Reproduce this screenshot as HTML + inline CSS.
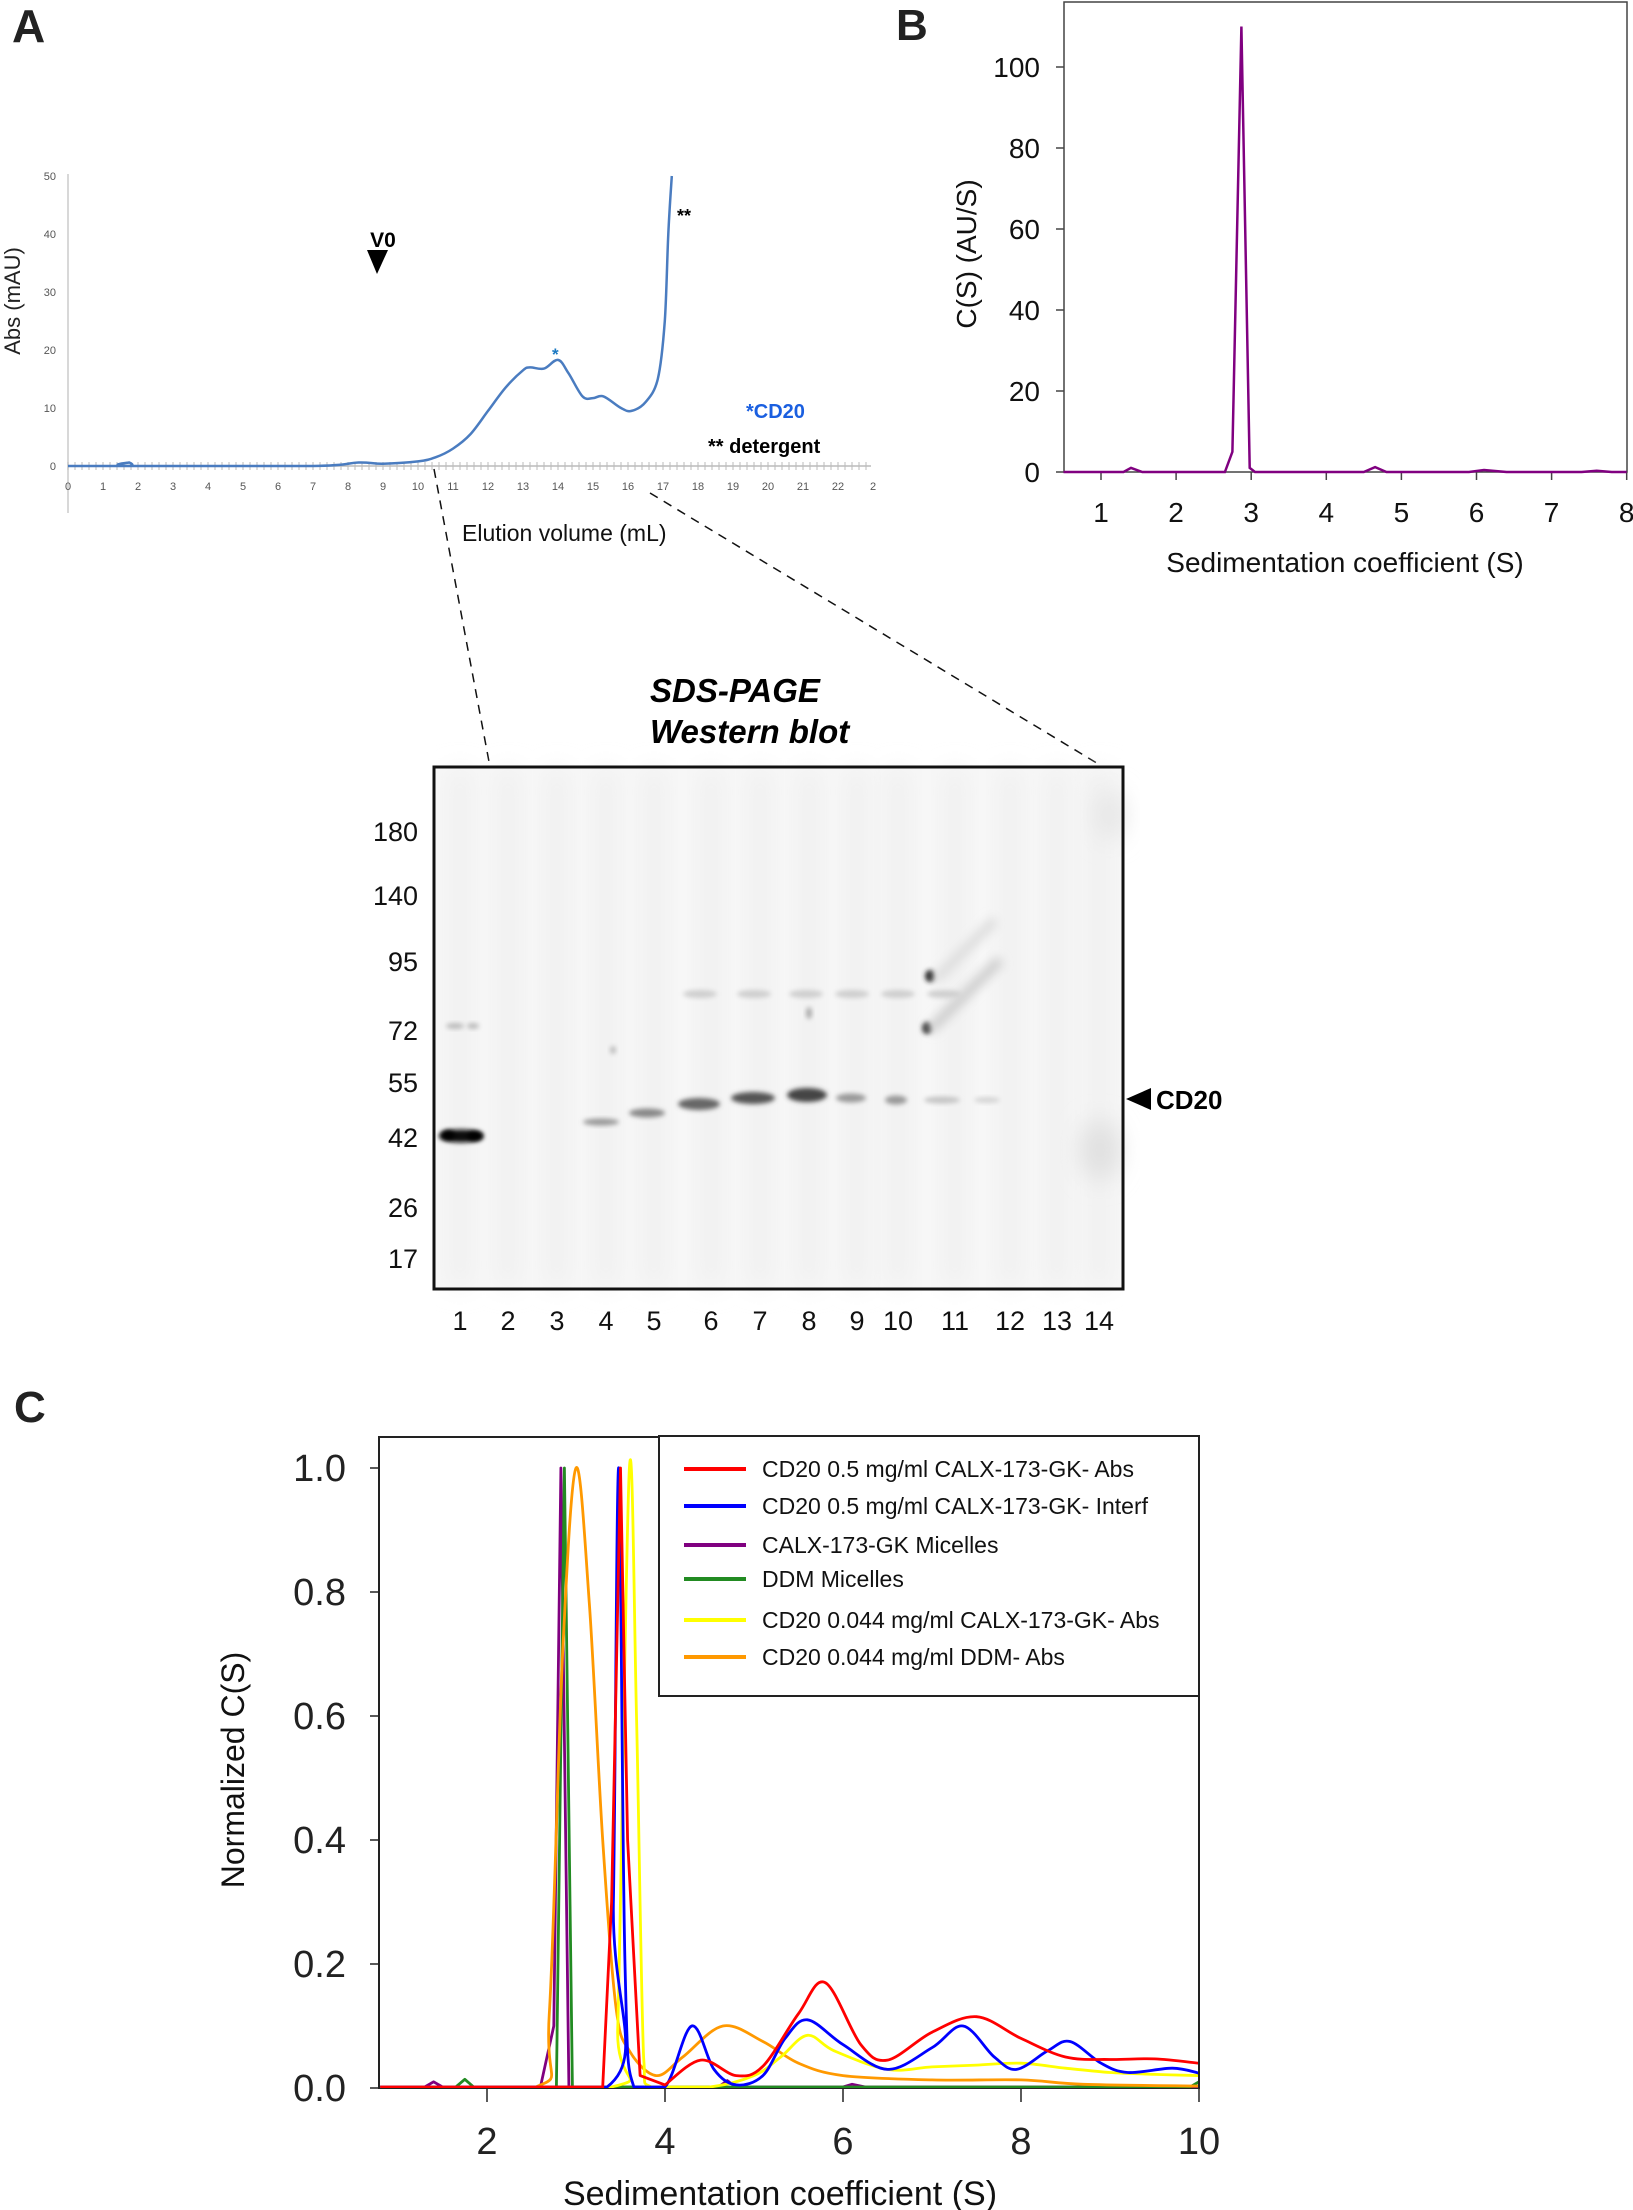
<!DOCTYPE html>
<html><head><meta charset="utf-8"><style>
html,body{margin:0;padding:0;background:#fff}
svg{display:block}
text{font-family:"Liberation Sans",sans-serif}
</style></head><body>
<svg id="s" width="1633" height="2210" viewBox="0 0 1633 2210" xmlns="http://www.w3.org/2000/svg">
<defs>
<filter id="b2" x="-50%" y="-50%" width="200%" height="200%"><feGaussianBlur stdDeviation="2.5"/></filter>
<filter id="b4" x="-50%" y="-50%" width="200%" height="200%"><feGaussianBlur stdDeviation="5"/></filter>
<filter id="b10" x="-50%" y="-50%" width="200%" height="200%"><feGaussianBlur stdDeviation="12"/></filter>
<clipPath id="cc"><rect x="380" y="1438" width="818" height="650"/></clipPath>
</defs>
<!-- Panel A -->
<text x="12" y="42" font-size="46" font-weight="bold" fill="#222">A</text>
<line x1="68" y1="174" x2="68" y2="513" stroke="#ccc" stroke-width="1.5"/>
<g id="aTicks" font-size="11" fill="#555"></g>
<text transform="translate(20,301) rotate(-90)" text-anchor="middle" font-size="22" fill="#222">Abs (mAU)</text>
<path id="aCurve" fill="none" stroke="#4a7cc0" stroke-width="2.5"/>
<text x="383" y="247" text-anchor="middle" font-size="21" font-weight="bold">V0</text>
<polygon points="367,250 388,250 377,274" fill="#000"/>
<text x="677" y="222" font-size="18" font-weight="bold">**</text>
<text x="552" y="360" font-size="17" fill="#1a78c2" font-weight="bold">*</text>
<text x="746" y="418" font-size="20" font-weight="bold" fill="#1a5fe0">*CD20</text>
<text x="708" y="453" font-size="20" font-weight="bold">** detergent</text>
<text x="462" y="541" font-size="23" fill="#111">Elution volume (mL)</text>
<line x1="434" y1="469" x2="490" y2="767" stroke="#111" stroke-width="1.5" stroke-dasharray="9,7"/>
<line x1="650" y1="493" x2="1100" y2="765" stroke="#111" stroke-width="1.5" stroke-dasharray="9,7"/>
<!-- Blot -->
<text x="650" y="702" font-size="33" font-weight="bold" font-style="italic">SDS-PAGE</text>
<text x="650" y="743" font-size="33" font-weight="bold" font-style="italic">Western blot</text>
<rect x="434" y="767" width="689" height="522" fill="#f7f7f7"/>
<g id="blot"></g>
<rect x="434" y="767" width="689" height="522" fill="none" stroke="#111" stroke-width="3"/>
<g font-size="27" text-anchor="end" fill="#111">
<text x="418" y="841">180</text><text x="418" y="905">140</text><text x="418" y="971">95</text><text x="418" y="1040">72</text><text x="418" y="1092">55</text><text x="418" y="1147">42</text><text x="418" y="1217">26</text><text x="418" y="1268">17</text>
</g>
<g font-size="27" text-anchor="middle" fill="#111">
<text x="460" y="1330">1</text><text x="508" y="1330">2</text><text x="557" y="1330">3</text><text x="606" y="1330">4</text><text x="654" y="1330">5</text><text x="711" y="1330">6</text><text x="760" y="1330">7</text><text x="809" y="1330">8</text><text x="857" y="1330">9</text><text x="898" y="1330">10</text><text x="955" y="1330">11</text><text x="1010" y="1330">12</text><text x="1057" y="1330">13</text><text x="1099" y="1330">14</text>
</g>
<polygon points="1126,1099 1151,1088 1151,1110" fill="#000"/>
<text x="1156" y="1109" font-size="26" font-weight="bold">CD20</text>
<!-- Panel B -->
<text x="896" y="40" font-size="44" font-weight="bold" fill="#222">B</text>
<rect x="1064" y="2" width="563" height="470" fill="none" stroke="#444" stroke-width="1.5"/>
<g id="bTicks" font-size="28" fill="#111"></g>
<text transform="translate(976,254) rotate(-90)" text-anchor="middle" font-size="28" fill="#111">C(S) (AU/S)</text>
<text x="1345" y="572" text-anchor="middle" font-size="28" fill="#111">Sedimentation coefficient (S)</text>
<path id="bCurve" fill="none" stroke="#800080" stroke-width="2.5"/>
<!-- Panel C -->
<text x="14" y="1422" font-size="44" font-weight="bold" fill="#222">C</text>
<rect x="379" y="1437" width="820" height="651" fill="none" stroke="#222" stroke-width="2"/>
<g id="cTicks" fill="#222"></g>
<g id="cSeries" clip-path="url(#cc)"></g>
<rect x="659" y="1436" width="540" height="260" fill="#fff" stroke="#222" stroke-width="2"/>
<g id="leg" font-size="23" fill="#111"></g>
<text transform="translate(244,1770) rotate(-90)" text-anchor="middle" font-size="32" fill="#111">Normalized C(S)</text>
<text x="780" y="2205" text-anchor="middle" font-size="34" fill="#111">Sedimentation coefficient (S)</text>
</svg>
<script>
var NS="http://www.w3.org/2000/svg";
function el(p,t,a,txt){var e=document.createElementNS(NS,t);for(var k in a)e.setAttribute(k,a[k]);if(txt!=null)e.textContent=txt;p.appendChild(e);return e;}
function smooth(pts,maxY){maxY=maxY||1e9;var d="M"+pts[0][0].toFixed(1)+","+pts[0][1].toFixed(1);
for(var i=0;i<pts.length-1;i++){var p0=pts[i-1]||pts[i],p1=pts[i],p2=pts[i+1],p3=pts[i+2]||p2;
var c1=[p1[0]+(p2[0]-p0[0])/6,Math.min(maxY,p1[1]+(p2[1]-p0[1])/6)],c2=[p2[0]-(p3[0]-p1[0])/6,Math.min(maxY,p2[1]-(p3[1]-p1[1])/6)];
if(p1[1]>=maxY-0.5&&p2[1]>=maxY-0.5){c1[1]=maxY;c2[1]=maxY;}
d+=" C"+c1[0].toFixed(1)+","+c1[1].toFixed(1)+" "+c2[0].toFixed(1)+","+c2[1].toFixed(1)+" "+p2[0].toFixed(1)+","+p2[1].toFixed(1);}return d;}
function lin(pts){return pts.map(function(p,i){return (i?"L":"M")+p[0].toFixed(1)+","+p[1].toFixed(1)}).join(" ");}
// Panel A
var aT=document.getElementById("aTicks");
var AX=function(v){return 68+v*35}, AY=function(v){return 466-v*5.8};
for(var v=0;v<=50;v+=10)el(aT,"text",{x:56,y:AY(v)+4,"text-anchor":"end"},v);
el(aT,"line",{x1:68,y1:466,x2:871,y2:466,stroke:"#bbb","stroke-width":1.5});
for(var m=0;m<=22.9;m+=0.2)el(aT,"line",{x1:AX(m),y1:462,x2:AX(m),y2:470,stroke:"#bbb","stroke-width":1});
for(var m=0;m<=23;m++)el(aT,"text",{x:AX(m),y:490,"text-anchor":"middle"},m==23?"2":m);
var ap=[[0,0],[1.7,0],[1.75,0.6],[1.82,0],[7,0],[8.3,0.6],[9,0.4],[10,0.8],[10.5,1.5],[11,3],[11.5,5.5],[12,9.5],[12.5,13.5],[13,16.5],[13.2,17],[13.6,16.8],[14,18.3],[14.3,16],[14.7,12],[15,11.7],[15.3,12],[15.8,10],[16.1,9.5],[16.5,11],[16.85,15],[17.05,25],[17.15,40],[17.25,50]];
document.getElementById("aCurve").setAttribute("d",smooth(ap.map(function(p){return[AX(p[0]),AY(p[1])]}),466));
// Blot
var bl=document.getElementById("blot");
var lanes=[460,508,557,606,654,711,760,809,857,898,955,1010,1057,1099];
lanes.forEach(function(x){el(bl,"rect",{x:x-12,y:770,width:24,height:516,fill:"#f0f0f0",filter:"url(#b10)"});});
function band(cx,cy,w,h,c,f){el(bl,"ellipse",{cx:cx,cy:cy,rx:w/2,ry:h/2,fill:c,filter:f||"url(#b2)"});}
band(461,1136,44,13,"#111");band(448,1135,14,10,"#000");band(475,1136,16,10,"#000");
band(455,1026,18,6,"#bbb");band(473,1026,12,6,"#bbb");
band(601,1122,36,7,"#999");band(647,1113,36,9,"#888");band(699,1104,42,12,"#666");band(753,1098,44,12,"#555");
band(807,1095,40,14,"#444");band(851,1098,30,9,"#999");band(896,1100,22,9,"#999");band(942,1100,36,7,"#c4c4c4");band(987,1100,26,6,"#d4d4d4");
[700,754,806,852,898,944].forEach(function(x){band(x,994,34,8,"#cfcfcf");});
band(930,976,10,12,"#222");band(927,1028,10,12,"#333");band(809,1013,6,12,"#aaa");band(613,1050,6,8,"#bbb");
el(bl,"line",{x1:930,y1:1030,x2:1000,y2:960,stroke:"#ccc","stroke-width":10,filter:"url(#b4)"});
el(bl,"line",{x1:935,y1:980,x2:995,y2:920,stroke:"#ddd","stroke-width":10,filter:"url(#b4)"});
band(1100,1150,40,60,"#e0e0e0","url(#b10)");band(1110,815,30,50,"#e6e6e6","url(#b10)");
// Panel B
var bT=document.getElementById("bTicks");
var BX=function(s){return 1101+(s-1)*75.1}, BY=function(v){return 472-v*4.05};
for(var v=0;v<=100;v+=20){el(bT,"line",{x1:1056,y1:BY(v),x2:1064,y2:BY(v),stroke:"#444","stroke-width":1.5});el(bT,"text",{x:1040,y:BY(v)+10,"text-anchor":"end"},v);}
for(var s=1;s<=8;s++){el(bT,"line",{x1:BX(s),y1:472,x2:BX(s),y2:480,stroke:"#444","stroke-width":1.5});el(bT,"text",{x:BX(s),y:522,"text-anchor":"middle"},s);}
var bp=[[0.5,0],[1.3,0],[1.4,1],[1.55,0],[2.65,0],[2.75,5],[2.87,110],[2.98,1],[3.05,0],[4.5,0],[4.65,1.2],[4.8,0],[5.9,0],[6.1,0.5],[6.4,0],[7.4,0],[7.6,0.3],[7.8,0],[8,0]];
document.getElementById("bCurve").setAttribute("d",lin(bp.map(function(p){return[BX(p[0]),BY(p[1])]})));
// Panel C
var cT=document.getElementById("cTicks");
var CX=function(s){return 487+(s-2)*89}, CY=function(v){return 2088-v*620};
["0.0","0.2","0.4","0.6","0.8","1.0"].forEach(function(t,i){var y=CY(i*0.2);el(cT,"line",{x1:370,y1:y,x2:379,y2:y,stroke:"#222","stroke-width":1.5});el(cT,"text",{x:346,y:y+13,"text-anchor":"end","font-size":38},t);});
[2,4,6,8,10].forEach(function(s){el(cT,"line",{x1:CX(s),y1:2088,x2:CX(s),y2:2102,stroke:"#222","stroke-width":1.5});el(cT,"text",{x:CX(s),y:2154,"text-anchor":"middle","font-size":38},s);});
var series=[
["#800080",[[0.8,0],[1.3,0],[1.4,0.01],[1.5,0],[2.6,0],[2.75,0.1],[2.83,1],[2.92,0],[4.6,0],[4.7,0.012],[4.8,0],[6.0,0],[6.1,0.006],[6.25,0],[10,0]],1],
["#228b22",[[0.8,0],[1.65,0],[1.75,0.014],[1.85,0],[2.78,0],[2.87,1],[2.96,0],[9.9,0],[10,0.01]],1],
["#ff9900",[[0.8,0],[2.55,0],[2.7,0.12],[2.85,0.7],[3.0,1.0],[3.15,0.78],[3.3,0.4],[3.45,0.13],[3.6,0.06],[3.9,0.02],[4.2,0.05],[4.65,0.1],[5.1,0.075],[5.5,0.04],[6,0.02],[7,0.013],[8,0.013],[8.7,0.006],[10,0.003]],0],
["#ffff00",[[0.8,0],[3.4,0],[3.47,0.1],[3.6,1.0],[3.68,0.6],[3.76,0.05],[3.85,0],[4.5,0],[5.0,0.02],[5.3,0.05],[5.6,0.085],[5.9,0.06],[6.5,0.03],[7,0.034],[7.5,0.037],[8,0.04],[8.5,0.032],[9,0.025],[9.5,0.022],[10,0.02]],0],
["#0000ff",[[0.8,0],[3.35,0],[3.42,0.3],[3.48,1.0],[3.55,0.2],[3.65,0],[4.0,0],[4.3,0.1],[4.55,0.03],[4.8,0.005],[5.1,0.02],[5.35,0.08],[5.6,0.11],[6.0,0.07],[6.5,0.03],[7.0,0.065],[7.35,0.1],[7.7,0.05],[7.95,0.03],[8.3,0.06],[8.55,0.075],[8.9,0.04],[9.2,0.025],[9.7,0.032],[10,0.024]],0],
["#ff0000",[[0.8,0],[3.3,0],[3.4,0.3],[3.5,1.0],[3.58,0.4],[3.72,0.02],[4.0,0.005],[4.4,0.045],[4.8,0.02],[5.1,0.035],[5.5,0.12],[5.8,0.17],[6.2,0.07],[6.5,0.045],[7.0,0.09],[7.5,0.115],[8.0,0.08],[8.5,0.05],[9.0,0.046],[9.5,0.047],[10,0.04]],1]
];
var cs=document.getElementById("cSeries");
series.forEach(function(s){var pts=s[1].map(function(p){return[CX(p[0]),Math.min(2087,CY(p[1]))]});
if(s[0]=="#ff0000"){ // smooth tail, linear peak
 var head=pts.slice(0,7),tail=pts.slice(6);
 el(cs,"path",{d:lin(head)+" "+smooth(tail,2087).replace(/^M[^ ]+/,""),fill:"none",stroke:s[0],"stroke-width":2.8,"stroke-linejoin":"round"});return;}
el(cs,"path",{d:s[2]?lin(pts):smooth(pts,2087),fill:"none",stroke:s[0],"stroke-width":2.8,"stroke-linejoin":"round"});});
var leg=document.getElementById("leg");
var L=[["#ff0000","CD20 0.5 mg/ml CALX-173-GK- Abs",1469],["#0000ff","CD20 0.5 mg/ml CALX-173-GK- Interf",1506],["#800080","CALX-173-GK Micelles",1545],["#228b22","DDM Micelles",1579],["#ffff00","CD20 0.044 mg/ml CALX-173-GK- Abs",1620],["#ff9900","CD20 0.044 mg/ml DDM- Abs",1657]];
L.forEach(function(l){el(leg,"line",{x1:684,y1:l[2],x2:746,y2:l[2],stroke:l[0],"stroke-width":4});el(leg,"text",{x:762,y:l[2]+8},l[1]);});
</script>
</body></html>
